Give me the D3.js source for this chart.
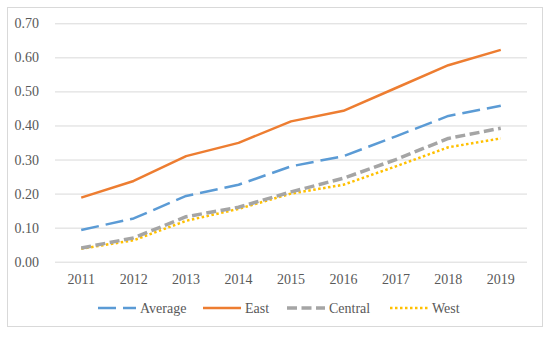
<!DOCTYPE html>
<html>
<head>
<meta charset="utf-8">
<script src="https://cdn.jsdelivr.net/npm/d3@7"></script>
<style>
  body { margin: 0; background: #fff; }
</style>
</head>
<body>
<div id="chart"></div>
<script>
// Data
const years = ['2011', '2012', '2013', '2014', '2015', '2016', '2017', '2018', '2019'];
const average = [0.093, 0.127, 0.193, 0.226, 0.28, 0.31, 0.368, 0.428, 0.458];
const east = [0.188, 0.237, 0.31, 0.349, 0.412, 0.443, 0.51, 0.577, 0.622];
const central = [0.04, 0.07, 0.132, 0.16, 0.205, 0.245, 0.3, 0.362, 0.392];
const west = [0.038, 0.063, 0.12, 0.155, 0.2, 0.226, 0.28, 0.336, 0.362];
const yTicks = [0, 0.1, 0.2, 0.3, 0.4, 0.5, 0.6, 0.7];

// Dimensions
const WIDTH = 550;
const HEIGHT = 337;
const PLOT = { LEFT: 55, RIGHT: 527, TOP: 23.3, BOTTOM: 261.7 };
const FONT = '"Liberation Serif", "DejaVu Serif", serif';

const svg = d3
  .select('#chart')
  .append('svg')
  .attr('width', WIDTH)
  .attr('height', HEIGHT);

// Chart border
svg
  .append('rect')
  .attr('x', 7.5)
  .attr('y', 7.5)
  .attr('width', 535)
  .attr('height', 319)
  .attr('fill', '#fff')
  .attr('stroke', '#d9d9d9');

// Scales
const x = d3.scaleBand().domain(years).range([PLOT.LEFT, PLOT.RIGHT]);
const y = d3.scaleLinear().domain([0, 0.7]).range([PLOT.BOTTOM, PLOT.TOP]);

// Gridlines + y labels
const yAxis = d3
  .axisLeft(y)
  .tickValues(yTicks)
  .tickSize(-(PLOT.RIGHT - PLOT.LEFT))
  .tickFormat(d3.format('.2f'));
svg
  .append('g')
  .attr('transform', `translate(${PLOT.LEFT}, 0)`)
  .call(yAxis)
  .attr('font-family', FONT)
  .attr('font-size', 14)
  .call((g) => g.select('.domain').remove())
  .call((g) => g.selectAll('line').attr('stroke', '#d9d9d9').attr('stroke-width', 1))
  .call((g) => g.selectAll('text').attr('x', -16).attr('fill', '#595959'));

// x labels
const xAxis = d3.axisBottom(x).tickSize(0);
svg
  .append('g')
  .attr('transform', `translate(0, ${PLOT.BOTTOM})`)
  .call(xAxis)
  .attr('font-family', FONT)
  .attr('font-size', 14)
  .call((g) => g.select('.domain').remove())
  .call((g) => g.selectAll('text').attr('dy', '1.4em').attr('fill', '#595959'));

// Series
const series = [
  { name: 'Average', values: average, color: '#5b9bd5', width: 2.5, dash: '18,7' },
  { name: 'East', values: east, color: '#ed7d31', width: 2.5, dash: null },
  { name: 'Central', values: central, color: '#a5a5a5', width: 3.5, dash: '10,4.5' },
  { name: 'West', values: west, color: '#ffc000', width: 2.5, dash: '2.5,2.5' }
];

const line = d3
  .line()
  .x((d, i) => x(years[i]) + x.bandwidth() / 2)
  .y((d) => y(d));

// draw West first so Central sits above it, like the original
[series[3], series[2], series[0], series[1]].forEach((s) => {
  svg
    .append('path')
    .datum(s.values)
    .attr('d', line)
    .attr('fill', 'none')
    .attr('stroke', s.color)
    .attr('stroke-width', s.width)
    .attr('stroke-dasharray', s.dash)
    .attr('stroke-linejoin', 'round');
});

// Legend
const legendX = [98, 203, 287, 390];
const legendY = 308;
series.forEach((s, i) => {
  const g = svg.append('g').attr('transform', `translate(${legendX[i]}, ${legendY})`);
  g.append('line')
    .attr('x1', 0)
    .attr('x2', 38)
    .attr('y1', 0)
    .attr('y2', 0)
    .attr('stroke', s.color)
    .attr('stroke-width', s.width)
    .attr('stroke-dasharray', s.dash);
  g.append('text')
    .attr('x', 42)
    .attr('y', 0)
    .attr('dy', '0.35em')
    .attr('font-family', FONT)
    .attr('font-size', 14)
    .attr('fill', '#595959')
    .text(s.name);
});
</script>
</body>
</html>
